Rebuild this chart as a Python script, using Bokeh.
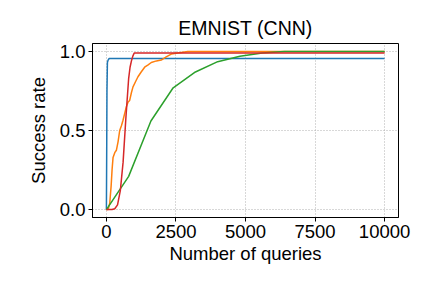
from bokeh.plotting import figure
from bokeh.models import Range1d, FixedTicker
from bokeh.embed import file_html
from bokeh.resources import INLINE

# Data
blue_x = [0, 10, 20, 36, 60, 100, 10000]
blue_y = [0.0, 0.35, 0.75, 0.93, 0.945, 0.955, 0.955]

orange_x = [0, 60, 120, 170, 203, 239, 300, 358, 420, 478, 540, 597, 660, 717, 780, 836, 900, 956, 1050,
            1135, 1250, 1374, 1500, 1613, 1800, 1971, 2150, 2330, 2569, 2927, 10000]
orange_y = [0.0, 0.0, 0.04, 0.15, 0.25, 0.33, 0.36, 0.375, 0.43, 0.50, 0.53, 0.565, 0.61, 0.65, 0.68, 0.69,
            0.74, 0.776, 0.81, 0.84, 0.87, 0.90, 0.915, 0.93, 0.94, 0.945, 0.965, 0.983, 0.99, 1.0, 1.0]

green_x = [0, 800, 1600, 2400, 3200, 4000, 4800, 5600, 6400, 10000]
green_y = [0.0, 0.21, 0.56, 0.77, 0.87, 0.935, 0.97, 0.99, 1.0, 1.0]

red_x = [0, 100, 200, 300, 400, 500, 600, 700, 800, 850, 900, 950, 1000, 10000]
red_y = [0.0, 0.0, 0.0, 0.005, 0.03, 0.12, 0.3, 0.58, 0.83, 0.9, 0.94, 0.97, 0.99, 0.99]

x_ticks = [0, 2500, 5000, 7500, 10000]
y_ticks = [0.0, 0.5, 1.0]

FONT = "Liberation Sans"

p = figure(width=432, height=288, output_backend="svg", toolbar_location=None,
           x_range=Range1d(-500, 10500), y_range=Range1d(-0.05, 1.05),
           title="EMNIST (CNN)",
           min_border_left=92, min_border_right=34, min_border_top=43, min_border_bottom=71,
           frame_width=306, frame_height=174)

p.title.align = "center"
p.title.text_font = FONT
p.title.text_font_size = "19.5px"
p.title.text_font_style = "normal"
p.title.text_color = "black"

p.xaxis.ticker = FixedTicker(ticks=x_ticks)
p.yaxis.ticker = FixedTicker(ticks=y_ticks)
p.yaxis.major_label_overrides = {0.0: "0.0", 0.5: "0.5", 1.0: "1.0"}
p.xaxis.axis_label = "Number of queries"
p.yaxis.axis_label = "Success rate"

for ax in (p.xaxis, p.yaxis):
    ax.axis_label_text_font = FONT
    ax.axis_label_text_font_size = "18.5px"
    ax.axis_label_text_font_style = "normal"
    ax.axis_label_text_color = "black"
    ax.major_label_text_font = FONT
    ax.major_label_text_font_size = "18.5px"
    ax.major_label_text_color = "black"
    ax.minor_tick_line_color = None
    ax.major_tick_in = 0
    ax.major_tick_out = 4
    ax.major_tick_line_color = "black"
    ax.axis_line_color = "black"
    ax.major_label_standoff = 3
    ax.axis_label_standoff = 2

p.yaxis.axis_label_standoff = 8

p.outline_line_color = "black"
p.outline_line_width = 1
p.grid.grid_line_color = "#b0b0b0"
p.grid.grid_line_dash = "1 2"
p.grid.grid_line_width = 1

p.line(blue_x, blue_y, line_color="#1f77b4", line_width=1.5)
p.line(orange_x, orange_y, line_color="#ff7f0e", line_width=1.5)
p.line(green_x, green_y, line_color="#2ca02c", line_width=1.5)
p.line(red_x, red_y, line_color="#d62728", line_width=1.5)

open("out.html", "w").write(file_html(p, INLINE))
